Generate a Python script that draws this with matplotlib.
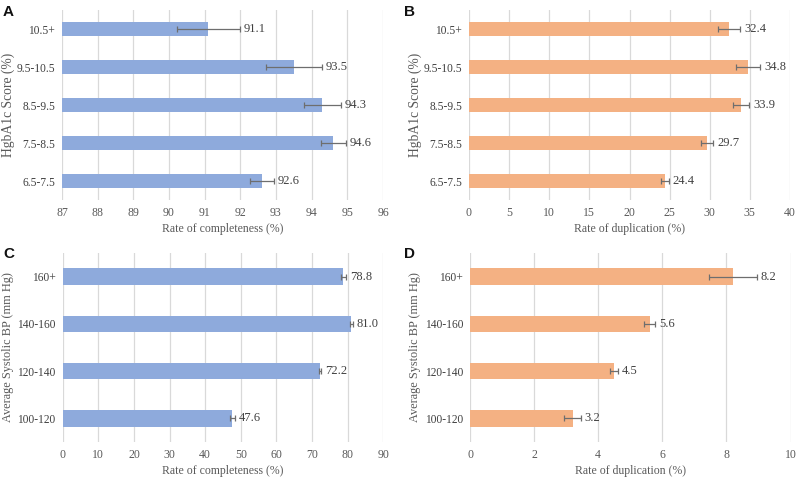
import matplotlib
matplotlib.use("Agg")
import matplotlib.pyplot as plt
import numpy as np

hba1c_cats = ["6.5-7.5", "7.5-8.5", "8.5-9.5", "9.5-10.5", "10.5+"]
hba1c_complete = [92.6, 94.6, 94.3, 93.5, 91.1]
hba1c_complete_err = [0.33, 0.35, 0.51, 0.78, 0.88]
hba1c_dup = [24.4, 29.7, 33.9, 34.8, 32.4]
hba1c_dup_err = [0.52, 0.73, 1.05, 1.5, 1.42]

bp_cats = ["100-120", "120-140", "140-160", "160+"]
bp_complete = [47.6, 72.2, 81.0, 78.8]
bp_complete_err = [0.7, 0.3, 0.4, 0.8]
bp_dup = [3.2, 4.5, 5.6, 8.2]
bp_dup_err = [0.26, 0.12, 0.17, 0.74]

BLUE = "#8eaadc"
ORANGE = "#f4b183"
SERIF = "Liberation Serif"
TXT = "#404040"

fig = plt.figure(figsize=(7.99, 4.8), dpi=100)
W, H = 799, 480

def ax_at(l, t, r, b):
    return fig.add_axes([l / W, 1 - b / H, (r - l) / W, (b - t) / H])

panels = [
    dict(box=(62, 10, 383, 200), cats=hba1c_cats, vals=hba1c_complete, err=hba1c_complete_err,
         color=BLUE, xlim=(87, 96), ticks=np.arange(87, 97, 1), xlabel="Rate of completeness (%)",
         ylabel="HgbA1c Score (%)", ylfs=9.8, ylx=8, letter="A"),
    dict(box=(469, 10, 790, 200), cats=hba1c_cats, vals=hba1c_dup, err=hba1c_dup_err,
         color=ORANGE, xlim=(0, 40), ticks=np.arange(0, 41, 5), xlabel="Rate of duplication (%)",
         ylabel="HgbA1c Score (%)", ylfs=9.8, ylx=415, letter="B"),
    dict(box=(62.7, 253, 383.3, 442), cats=bp_cats, vals=bp_complete, err=bp_complete_err,
         color=BLUE, xlim=(0, 90), ticks=np.arange(0, 91, 10), xlabel="Rate of completeness (%)",
         ylabel="Average Systolic BP (mm Hg)", ylfs=8.8, ylx=8, letter="C"),
    dict(box=(470, 253, 790.6, 442), cats=bp_cats, vals=bp_dup, err=bp_dup_err,
         color=ORANGE, xlim=(0, 10), ticks=np.arange(0, 11, 2), xlabel="Rate of duplication (%)",
         ylabel="Average Systolic BP (mm Hg)", ylfs=8.8, ylx=415, letter="D"),
]

letter_pos = {"A": (3, 12), "B": (404, 12), "C": (3, 254), "D": (404, 254)}

for p in panels:
    ax = ax_at(*p["box"])
    n = len(p["cats"])
    y = np.arange(n)
    xmin = p["xlim"][0]
    ax.barh(y, np.array(p["vals"]) - xmin, left=xmin, height=0.35, color=p["color"], zorder=3)
    ax.errorbar(p["vals"], y, xerr=p["err"], fmt="none", ecolor="#6e6e6e",
                elinewidth=0.9, capsize=2.5, capthick=0.9, zorder=4)
    for v, e, yy in zip(p["vals"], p["err"], y):
        ax.text(v + e + (p["xlim"][1] - p["xlim"][0]) * 0.012, yy, f"{v:.1f}",
                va="center", ha="left", fontsize=9, family=SERIF, color=TXT, zorder=5)
    ax.set_xlim(*p["xlim"])
    ax.set_ylim(-0.5, n - 0.5)
    ax.set_xticks(p["ticks"])
    ax.set_xticklabels([f"{int(t)}" for t in p["ticks"]], family=SERIF,
                       fontsize=8.5, color="#595959")
    ax.set_yticks(y)
    ax.set_yticklabels(p["cats"], family=SERIF, fontsize=8.3, color="#404040")
    ax.tick_params(axis="y", length=0, pad=5)
    ax.tick_params(axis="x", length=0, pad=5)
    ax.grid(axis="x", color="#d9d9d9", linewidth=0.9, zorder=0)
    ax.set_axisbelow(True)
    for s in ax.spines.values():
        s.set_visible(False)
    ax.set_xlabel(p["xlabel"], family=SERIF, fontsize=8.5, color="#595959", labelpad=3)
    l, t, r, b = p["box"]
    fig.text(p["ylx"] / W, 1 - ((t + b) / 2) / H, p["ylabel"], rotation=90,
             ha="center", va="center", family=SERIF, fontsize=p["ylfs"], color="#595959")
    lx, ly = letter_pos[p["letter"]]
    fig.text(lx / W, 1 - ly / H, p["letter"], family="Liberation Sans", fontweight="bold",
             fontsize=11, va="center", ha="left", color="#111111")

fig.savefig("out.png", dpi=100)
